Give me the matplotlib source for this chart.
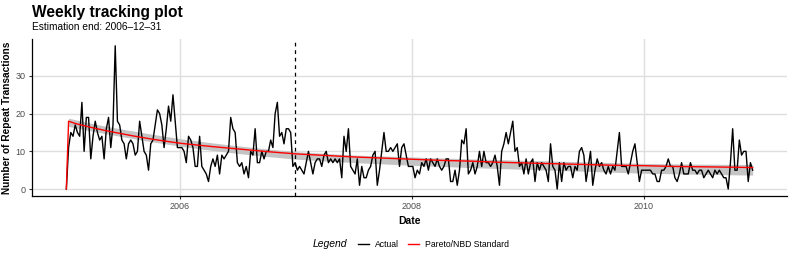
import numpy as np
import pandas as pd
import matplotlib
matplotlib.use("Agg")
import matplotlib.pyplot as plt
import matplotlib.dates as mdates
from matplotlib.lines import Line2D
from matplotlib.offsetbox import HPacker

plt.rcParams['font.family'] = ['Liberation Sans', 'DejaVu Sans']

# weekly repeat transactions
start_date = "2005-01-08"
actual = [
    0, 11, 15, 14, 17, 15, 14, 23, 10, 19, 19, 8, 14, 18, 15, 13, 14, 8, 16, 19,
    11, 17, 38, 18, 17, 13, 12, 8, 12, 13, 12, 9, 10, 18, 14, 10, 9, 5, 12, 13,
    17, 21, 20, 17, 11, 16, 22, 18, 25, 18, 11, 11, 11, 10, 7, 14, 13, 11, 6, 6,
    14, 6, 5, 4, 2, 6, 8, 6, 9, 4, 9, 8, 9, 10, 19, 16, 15, 7, 6, 7,
    4, 6, 3, 10, 9, 16, 7, 7, 10, 8, 10, 10, 13, 11, 20, 23, 14, 15, 12, 16,
    16, 15, 6, 7, 5, 6, 5, 4, 7, 10, 7, 4, 7, 8, 8, 6, 9, 10, 7, 8,
    7, 8, 7, 8, 3, 14, 10, 16, 6, 5, 4, 8, 1, 6, 3, 3, 5, 6, 9, 10,
    1, 5, 10, 15, 10, 10, 11, 10, 11, 12, 6, 11, 12, 9, 6, 6, 6, 3, 5, 4,
    7, 6, 8, 5, 8, 7, 6, 8, 6, 5, 6, 8, 8, 2, 2, 5, 1, 5, 13, 12,
    16, 4, 5, 7, 4, 6, 10, 6, 10, 7, 7, 6, 7, 9, 6, 1, 10, 12, 15, 12,
    15, 18, 10, 11, 6, 7, 4, 8, 4, 7, 8, 2, 7, 5, 7, 6, 5, 2, 12, 6,
    5, 0, 7, 2, 7, 5, 6, 6, 3, 6, 5, 10, 11, 9, 2, 6, 10, 1, 5, 8,
    6, 7, 5, 4, 6, 4, 6, 5, 10, 15, 6, 6, 6, 4, 7, 10, 12, 7, 2, 5,
    5, 5, 5, 5, 4, 4, 2, 2, 5, 5, 6, 8, 6, 6, 3, 2, 4, 7, 4, 4,
    4, 7, 5, 5, 4, 5, 5, 3, 4, 5, 4, 3, 5, 4, 5, 4, 3, 3, 0, 7,
    16, 5, 5, 13, 9, 10, 10, 2, 7, 5,
]

# Pareto/NBD expected curve (week index -> value)
model_weeks = [0, 1, 4, 8, 13, 17, 22, 30, 39, 47, 52, 65, 78, 91, 104, 117, 130,
               143, 156, 169, 182, 195, 208, 221, 234, 247, 260, 273, 286, 299, 309]
model_vals = [0, 18.0, 17.4, 16.8, 16.1, 15.6, 15.0, 14.1, 13.2, 12.5, 12.1, 11.3, 10.6,
              9.9, 9.3, 8.9, 8.5, 8.2, 7.9, 7.6, 7.4, 7.1, 6.9, 6.7, 6.5, 6.3, 6.2,
              6.0, 5.9, 5.8, 5.7]

# grey ribbon
band_weeks = [1, 13, 26, 39, 52, 65, 78, 91, 104, 130, 156, 182, 208, 234, 260, 286, 309]
band_low = [16.6, 15.2, 13.8, 12.5, 11.3, 10.3, 9.4, 8.6, 7.9, 7.0, 6.3, 5.7, 5.2, 4.7, 4.2, 3.9, 3.7]
band_high = [18.8, 17.2, 15.8, 14.5, 13.3, 12.3, 11.4, 10.6, 9.9, 9.0, 8.5, 8.0, 7.6, 7.2, 6.8, 6.6, 6.5]

est_end = "2006-12-31"

dates = pd.date_range(start_date, periods=len(actual), freq="7D")
model_dates = dates[model_weeks]
band_dates = dates[band_weeks]

fig = plt.figure(figsize=(7.93, 2.63), dpi=100)
ax = fig.add_axes([0.0404, 0.254, 0.952, 0.599])

ax.fill_between(band_dates, band_low, band_high, color="#c4c4c4", lw=0, zorder=2)
ax.plot(dates, actual, color="black", lw=1.0, zorder=3)
ax.plot(model_dates, model_vals, color="red", lw=1.0, zorder=4)
ax.axvline(pd.Timestamp(est_end), color="black", lw=0.9, dashes=(3, 3), zorder=5)

span = dates[-1] - dates[0]
ax.set_xlim(dates[0] - span * 0.05, dates[-1] + span * 0.05)
ax.set_ylim(-1.9, 39.9)
ax.set_yticks([0, 10, 20, 30])

ax.xaxis.set_major_locator(mdates.YearLocator(2))
ax.xaxis.set_major_formatter(mdates.DateFormatter("%Y"))

ax.grid(True, color="#dedede", lw=1.0, zorder=0)
ax.set_axisbelow(True)
for s in ["top", "right"]:
    ax.spines[s].set_visible(False)
for s in ["left", "bottom"]:
    ax.spines[s].set_linewidth(0.9)
ax.tick_params(axis="both", labelsize=6.5, colors="#4d4d4d", length=2.5, width=0.8, pad=2)
ax.tick_params(axis="both", color="#333333")

ax.set_xlabel("Date", fontsize=7.5, fontweight="bold", labelpad=3)
ax.set_ylabel("Number of Repeat Transactions", fontsize=7.3, fontweight="bold", labelpad=2.5)

fig.text(0.0404, 0.935, "Weekly tracking plot", fontsize=11.2, fontweight="bold", va="baseline")
fig.text(0.0404, 0.885, "Estimation end: 2006\u201312\u201331", fontsize=7.3, va="baseline")

handles = [Line2D([], [], color="black", lw=1.0), Line2D([], [], color="red", lw=1.0)]
leg = fig.legend(handles, ["Actual", "Pareto/NBD Standard"], loc="center",
                 bbox_to_anchor=(0.518, 0.072), ncol=2, frameon=False, fontsize=6.2,
                 title="Legend", handlelength=1.3, handletextpad=0.7, columnspacing=1.0)
leg.get_title().set_fontstyle("italic")
leg.get_title().set_fontsize(7.5)
# put title to the left of the entries
leg._legend_box._children = [HPacker(children=[leg._legend_title_box, leg._legend_handle_box],
                                     pad=0, sep=8, align="center")]

fig.savefig("out.png", dpi=100)
